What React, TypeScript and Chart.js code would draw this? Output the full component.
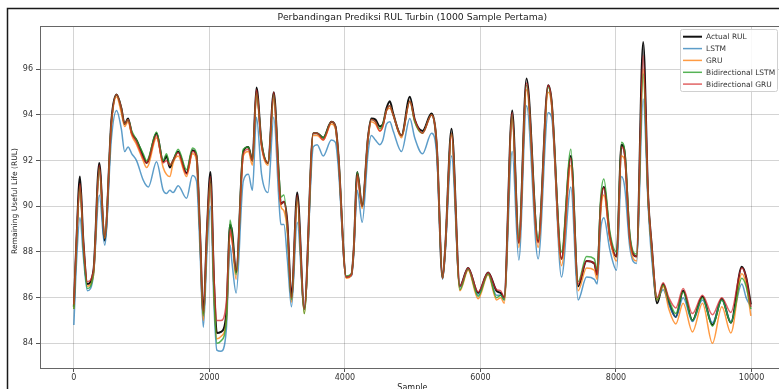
import React, { useEffect, useRef } from "react";
import { Chart, registerables } from "chart.js";

Chart.register(...registerables);

const samples = [
  0, 40, 90, 140, 200, 290, 375, 455, 555, 630, 700, 750, 800, 855, 925, 1023, 1072, 1100, 1220, 1318,
  1367, 1416, 1465, 1539, 1663, 1751, 1810, 1860, 1910, 1965, 2015, 2070, 2110, 2170, 2250, 2305, 2335, 2395, 2500, 2575,
  2635, 2695, 2770, 2865, 2950, 3025, 3055, 3100, 3150, 3212, 3296, 3400, 3533, 3590, 3680, 3800, 3860, 3900, 4020, 4095,
  4130, 4182, 4255, 4340, 4390, 4450, 4515, 4560, 4614, 4663, 4712, 4835, 4958, 5030, 5145, 5278, 5330, 5360, 5440, 5479,
  5573, 5696, 5818, 5966, 6113, 6237, 6300, 6350, 6468, 6566, 6680, 6851, 6999, 7050, 7196, 7334, 7441, 7565, 7680, 7722,
  7775, 7821, 7909, 8008, 8081, 8130, 8204, 8303, 8401, 8475, 8524, 8607, 8696, 8780, 8883, 8991, 9128, 9276, 9423, 9562,
  9695, 9857, 9920, 9990,
];

const actualRUL = [
  85.6, 88.6, 91.3, 88.5, 86.6, 87.2, 91.9, 88.5, 93.8, 94.9, 94.3, 93.6, 93.85, 93.2, 92.9, 92.2, 91.9, 92.0, 93.2, 91.95,
  92.2, 91.7, 92.0, 92.4, 91.45, 92.45, 92.2, 89.0, 85.3, 89.0, 91.5, 86.5, 84.45, 84.5, 85.3, 89.2, 88.9, 87.1, 92.4, 92.6,
  92.0, 95.2, 92.75, 91.9, 95.0, 91.3, 90.1, 90.2, 89.3, 86.0, 90.6, 85.5, 93.2, 93.2, 93.0, 93.7, 93.5, 92.4, 86.9, 87.0,
  88.1, 91.5, 90.0, 93.0, 93.85, 93.8, 93.5, 93.6, 94.3, 94.6, 94.06, 93.1, 94.8, 93.8, 93.3, 94.06, 93.5, 92.4, 86.85, 88.1,
  93.4, 86.5, 87.3, 86.2, 87.1, 86.3, 86.2, 86.0, 94.2, 88.4, 95.6, 88.45, 95.3, 94.6, 87.7, 92.2, 86.5, 87.6, 87.5, 87.0,
  90.1, 90.85, 88.7, 87.8, 92.7, 92.3, 88.6, 87.8, 97.2, 90.4, 88.4, 85.75, 86.6, 85.8, 85.15, 86.3, 85.0, 86.05, 84.8, 85.95,
  84.9, 87.35, 86.9, 85.7,
];

const lstm = [
  84.8, 87.6, 89.5, 87.8, 86.3, 87.0, 90.5, 88.3, 93.0, 94.2, 93.4, 92.4, 92.6, 92.3, 92.0, 91.15, 90.9, 90.85, 91.95, 90.7,
  90.56, 90.7, 90.6, 90.9, 90.35, 91.35, 91.1, 88.2, 84.7, 88.0, 90.0, 85.5, 83.7, 83.65, 84.6, 88.3, 87.5, 86.2, 91.1, 91.4,
  90.7, 93.9, 91.4, 90.6, 93.9, 90.3, 89.2, 89.2, 87.7, 85.6, 89.3, 85.5, 92.6, 92.7, 92.2, 92.9, 92.8, 91.8, 86.9, 86.95,
  88.0, 90.7, 89.3, 92.3, 93.1, 92.9, 92.7, 92.9, 93.6, 93.7, 93.3, 92.4, 93.85, 93.0, 92.3, 93.2, 92.9, 92.0, 86.8, 88.0,
  92.2, 86.45, 87.25, 86.1, 87.05, 86.1, 86.1, 85.9, 92.4, 87.65, 94.4, 87.7, 94.1, 93.9, 86.9, 90.85, 85.9, 86.9, 86.8, 86.6,
  89.0, 89.5, 88.1, 87.2, 91.3, 90.8, 88.2, 87.5, 94.7, 90.0, 87.8, 86.0, 86.35, 85.7, 85.15, 86.0, 84.95, 85.9, 84.9, 85.9,
  84.95, 86.6, 86.0, 85.6,
];

const gru = [
  85.5, 88.4, 90.8, 88.3, 86.5, 87.0, 91.6, 88.6, 93.6, 94.8, 94.1, 93.5, 93.7, 93.1, 92.7, 92.0, 91.7, 91.8, 93.0, 91.7,
  91.4, 91.3, 91.9, 92.2, 91.3, 92.3, 92.0, 88.8, 85.0, 88.6, 91.0, 86.0, 84.2, 84.3, 85.0, 88.8, 88.5, 86.8, 92.2, 92.4,
  91.8, 94.9, 92.6, 91.8, 94.7, 91.0, 90.0, 89.8, 88.9, 85.8, 90.2, 85.3, 93.1, 93.1, 92.9, 93.6, 93.4, 92.3, 86.85, 87.0,
  88.1, 91.3, 89.9, 92.9, 93.7, 93.6, 93.3, 93.5, 94.2, 94.3, 94.0, 93.0, 94.6, 93.7, 93.2, 94.0, 93.5, 92.4, 86.85, 88.1,
  93.1, 86.3, 87.2, 85.95, 87.0, 85.9, 86.0, 85.75, 93.8, 88.2, 95.1, 88.2, 95.0, 94.4, 87.4, 91.8, 86.3, 87.3, 87.2, 86.8,
  89.8, 90.5, 88.6, 87.6, 92.2, 92.0, 88.5, 87.6, 96.0, 90.3, 88.2, 85.9, 86.5, 85.5, 84.85, 85.75, 84.5, 85.75, 84.0, 85.6,
  84.45, 87.05, 86.6, 85.2,
];

const biLstm = [
  85.5, 88.5, 90.9, 88.2, 86.4, 87.1, 91.7, 88.7, 93.7, 94.9, 94.3, 93.6, 93.8, 93.3, 92.9, 92.3, 92.0, 92.1, 93.25, 92.0,
  92.3, 91.8, 92.0, 92.5, 91.6, 92.55, 92.3, 88.9, 85.2, 88.8, 91.2, 86.0, 84.0, 84.1, 85.0, 89.4, 88.8, 87.0, 92.5, 92.6,
  92.0, 95.0, 92.8, 91.9, 94.9, 91.5, 90.4, 90.5, 89.0, 85.9, 90.4, 85.3, 93.2, 93.2, 93.0, 93.7, 93.5, 92.4, 86.95, 87.05,
  88.1, 91.5, 90.0, 93.0, 93.8, 93.7, 93.4, 93.6, 94.2, 94.4, 94.0, 93.1, 94.6, 93.7, 93.2, 94.0, 93.5, 92.4, 86.85, 88.1,
  93.2, 86.35, 87.25, 86.05, 87.05, 86.0, 86.1, 85.9, 94.0, 88.6, 95.3, 88.6, 95.2, 94.6, 88.0, 92.5, 86.7, 87.8, 87.7, 87.2,
  90.4, 91.2, 88.9, 88.0, 92.8, 92.4, 88.8, 87.9, 95.8, 90.3, 88.3, 85.9, 86.55, 85.9, 85.3, 86.25, 85.0, 86.0, 84.75, 85.9,
  84.9, 86.85, 86.5, 85.5,
];

const biGru = [
  85.7, 88.6, 91.0, 88.4, 86.7, 87.2, 91.8, 88.7, 93.7, 94.9, 94.3, 93.6, 93.8, 93.2, 92.8, 92.1, 91.9, 92.0, 93.1, 91.9,
  92.0, 91.8, 92.0, 92.35, 91.4, 92.4, 92.2, 89.0, 85.4, 89.0, 91.3, 86.8, 85.0, 85.0, 85.8, 89.0, 88.5, 87.2, 92.3, 92.5,
  92.0, 95.1, 92.7, 91.9, 95.0, 91.2, 90.1, 90.2, 89.2, 86.0, 90.5, 85.5, 93.2, 93.2, 92.9, 93.7, 93.5, 92.4, 86.9, 87.0,
  88.1, 91.4, 90.0, 93.0, 93.8, 93.7, 93.3, 93.5, 94.2, 94.4, 94.0, 93.1, 94.6, 93.8, 93.2, 94.0, 93.5, 92.4, 86.85, 88.1,
  93.2, 86.5, 87.3, 86.25, 87.1, 86.35, 86.3, 86.0, 94.1, 88.4, 95.4, 88.4, 95.3, 94.6, 87.7, 92.1, 86.6, 87.6, 87.5, 87.0,
  90.1, 90.8, 88.7, 87.8, 92.6, 92.2, 88.6, 87.8, 96.6, 90.4, 88.4, 86.0, 86.65, 86.0, 85.55, 86.4, 85.3, 86.1, 85.25, 86.0,
  85.35, 87.3, 86.9, 85.6,
];

const seriesNames = ["Actual RUL", "LSTM", "GRU", "Bidirectional LSTM", "Bidirectional GRU"];
const seriesColors = [
  "#111111",
  "rgba(31,119,180,0.72)",
  "rgba(255,127,14,0.78)",
  "rgba(44,160,44,0.8)",
  "rgba(214,39,40,0.72)",
];
const seriesWidths = [2, 1.5, 1.5, 1.5, 1.5];
const xTicks = [0, 2000, 4000, 6000, 8000, 10000];
const yTicks = [84, 86, 88, 90, 92, 94, 96];

const titleText = "Perbandingan Prediksi RUL Turbin (1000 Sample Pertama)";
const xLabel = "Sample";
const yLabel = "Remaining Useful Life (RUL)";

const FONT = "'DejaVu Sans', sans-serif";

const decor = {
  id: "decor",
  beforeDraw(chart: any) {
    const ctx = chart.ctx;
    ctx.save();
    ctx.fillStyle = "#ffffff";
    ctx.fillRect(0, 0, chart.width, chart.height);
    ctx.restore();
  },
  afterDraw(chart: any) {
    const ctx = chart.ctx;
    const a = chart.chartArea;
    ctx.save();
    ctx.strokeStyle = "#666";
    ctx.lineWidth = 1;
    ctx.strokeRect(Math.round(a.left) + 0.5, Math.round(a.top) + 0.5, a.right - a.left, a.bottom - a.top);
    ctx.strokeStyle = "#1a1a1a";
    ctx.lineWidth = 1.5;
    ctx.beginPath();
    ctx.moveTo(7.5, chart.height);
    ctx.lineTo(7.5, 8.5);
    ctx.lineTo(chart.width, 8.5);
    ctx.stroke();
    const cx = (a.left + a.right) / 2;
    ctx.fillStyle = "#222";
    ctx.font = `9.3px ${FONT}`;
    ctx.textAlign = "center";
    ctx.textBaseline = "middle";
    ctx.fillText(titleText, cx, 18);
    ctx.font = `8px ${FONT}`;
    ctx.textBaseline = "top";
    ctx.fillText(xLabel, cx, 384);
    ctx.save();
    ctx.font = `7.6px ${FONT}`;
    ctx.translate(15, (a.top + a.bottom) / 2 + 4);
    ctx.rotate(-Math.PI / 2);
    ctx.textBaseline = "middle";
    ctx.fillText(yLabel, 0, 0);
    ctx.restore();
    const lx = 680.5, ly = 29.5, lw = 97, lh = 62;
    ctx.fillStyle = "rgba(255,255,255,0.85)";
    ctx.strokeStyle = "#d0d0d0";
    ctx.lineWidth = 1;
    ctx.beginPath();
    ctx.roundRect(lx, ly, lw, lh, 2);
    ctx.fill();
    ctx.stroke();
    const rows = [36.7, 48.6, 60.4, 72.3, 84.1];
    ctx.font = `7.5px ${FONT}`;
    ctx.textAlign = "left";
    ctx.textBaseline = "middle";
    seriesNames.forEach((n, i) => {
      ctx.strokeStyle = seriesColors[i];
      ctx.lineWidth = seriesWidths[i];
      ctx.beginPath();
      ctx.moveTo(683, rows[i]);
      ctx.lineTo(702, rows[i]);
      ctx.stroke();
      ctx.fillStyle = "#333";
      ctx.fillText(n, 706, rows[i] + 0.5);
    });
    ctx.restore();
  },
};

export default function App() {
  const ref = useRef<HTMLCanvasElement | null>(null);
  useEffect(() => {
    if (!ref.current) return;
    const valueSets = [actualRUL, lstm, gru, biLstm, biGru];
    const datasets = valueSets.map((vals, i) => ({
      label: seriesNames[i],
      data: samples.map((s, j) => ({ x: s, y: vals[j] })),
      borderColor: seriesColors[i],
      backgroundColor: seriesColors[i],
      borderWidth: seriesWidths[i],
      pointRadius: 0,
      cubicInterpolationMode: "monotone" as const,
      borderJoinStyle: "round" as const,
      order: 5 - i,
    }));
    const chart = new Chart(ref.current, {
      type: "line",
      data: { datasets },
      plugins: [decor],
      options: {
        animation: false,
        responsive: false,
        devicePixelRatio: 1,
        layout: { padding: { left: 0, top: 26, right: 15.3, bottom: 0 } },
        plugins: { legend: { display: false }, tooltip: { enabled: false }, title: { display: false } },
        scales: {
          x: {
            type: "linear",
            min: -499.5,
            max: 10489.5,
            afterFit: (s: any) => { s.height = 32; },
            afterBuildTicks: (s: any) => { s.ticks = xTicks.map((v) => ({ value: v })); },
            grid: { color: "rgba(0,0,0,0.17)", lineWidth: 1, drawTicks: true, tickLength: 4, tickColor: "#555" },
            border: { display: false },
            ticks: {
              font: { family: FONT, size: 8 }, color: "#333", padding: 1, maxRotation: 0, autoSkip: false,
              callback: (v: any) => String(v),
            },
          },
          y: {
            type: "linear",
            min: 82.918,
            max: 97.897,
            afterFit: (s: any) => { s.width = 40; },
            afterBuildTicks: (s: any) => { s.ticks = yTicks.map((v) => ({ value: v })); },
            grid: { color: "rgba(0,0,0,0.17)", lineWidth: 1, drawTicks: true, tickLength: 4, tickColor: "#555" },
            border: { display: false },
            ticks: {
              font: { family: FONT, size: 8 }, color: "#333", padding: 3, autoSkip: false,
              callback: (v: any) => String(v),
            },
          },
        },
      },
    });
    return () => chart.destroy();
  }, []);
  return (
    <div style={{ position: "fixed", left: 0, top: 0, width: 779, height: 389, overflow: "hidden", background: "#fff" }}>
      <canvas ref={ref} width={800} height={400} style={{ width: 800, height: 400, display: "block" }} />
    </div>
  );
}
